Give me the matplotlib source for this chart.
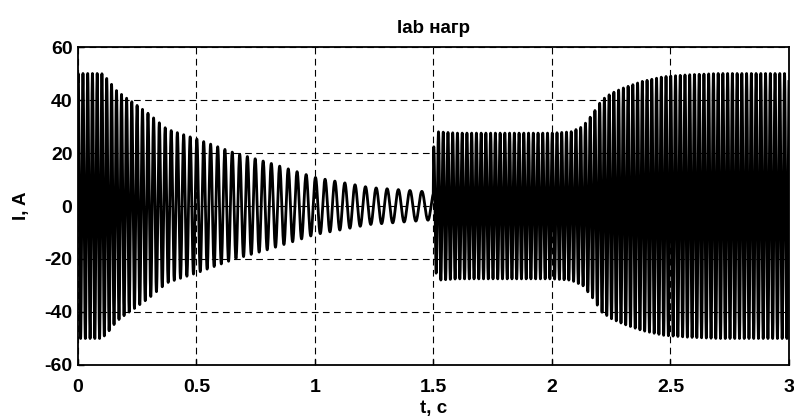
import numpy as np
import matplotlib
matplotlib.use("Agg")
import matplotlib.pyplot as plt

# envelope of the load current (peak amplitude, A)
env_t = [0.0, 0.1, 0.125, 0.163, 0.2, 0.233, 0.3, 0.375, 0.5, 0.655, 0.8, 1.0, 1.23, 1.47, 1.499,
         1.5, 1.52, 1.6, 2.0, 2.08, 2.13, 2.17, 2.21, 2.25, 2.3, 2.38, 2.47, 2.57, 2.7, 3.0]
env_a = [50, 50, 47.8, 43.5, 41, 39, 34.7, 29, 25.3, 20.2, 16.5, 10.8, 7, 5.4, 5.2,
         22, 28, 27.5, 27.5, 28, 30, 34.5, 40, 42.5, 44.5, 47, 48.8, 49.5, 50, 50]

# frequency of the current (Hz): generator slows down, then grid after 1.5 s
freq_t = [0.0, 0.1, 0.5, 1.0, 1.5, 1.5001, 3.0]
freq_f = [50, 50, 35, 25, 19, 50, 50]

x_ticks = [0, 0.5, 1, 1.5, 2, 2.5, 3]
x_labels = ["0", "0.5", "1", "1.5", "2", "2.5", "3"]
y_ticks = [-60, -40, -20, 0, 20, 40, 60]

t = np.arange(0, 3.0001, 1e-4)
amp = np.interp(t, env_t, env_a)
f = np.interp(t, freq_t, freq_f)
phase = 2 * np.pi * np.cumsum(f) * 1e-4
i_ab = amp * np.sin(phase + 1.2)

plt.rcParams['font.family'] = ['Liberation Sans', 'DejaVu Sans']
plt.rcParams['axes.unicode_minus'] = False

fig = plt.figure(figsize=(7.94, 4.19), dpi=100)
ax = fig.add_axes([0.0982, 0.1289, 0.8955, 0.7589])

ax.plot(t, i_ab, color='black', linewidth=2.0)

ax.set_xlim(0, 3)
ax.set_ylim(-60, 60)
ax.set_xticks(x_ticks)
ax.set_xticklabels(x_labels)
ax.set_yticks(y_ticks)
ax.grid(True, color='black', linestyle=(0, (6, 4)), linewidth=0.8)
ax.tick_params(direction='in', length=4, width=1, labelsize=14)
ax.tick_params(axis='x', pad=10)
ax.tick_params(axis='y', pad=4)
for lab in ax.get_xticklabels() + ax.get_yticklabels():
    lab.set_fontweight('bold')
for sp in ax.spines.values():
    sp.set_linewidth(1.3)

ax.set_title('Iab нагр', fontsize=13.5, fontweight='bold', pad=10)
ax.set_xlabel('t, c', fontsize=13.5, fontweight='bold', labelpad=3)
ax.set_ylabel('I, A', fontsize=13.5, fontweight='bold', labelpad=10)

fig.savefig('out.png', dpi=100, facecolor='white')
